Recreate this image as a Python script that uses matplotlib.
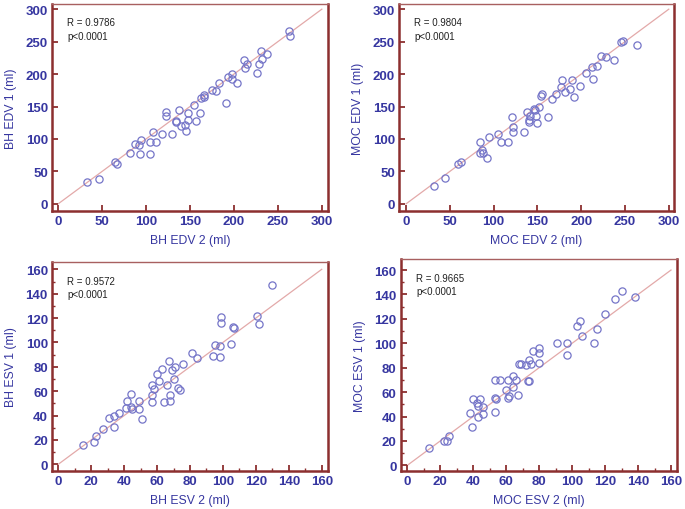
import matplotlib
matplotlib.use("Agg")
import matplotlib.pyplot as plt
from matplotlib.ticker import MultipleLocator

plt.rcParams['font.family'] = ['Liberation Sans', 'DejaVu Sans']

# ---- data ----
bh_edv2 = [33, 46, 65, 67, 82, 87, 92, 94, 93, 104, 105, 111, 108, 118, 129, 123, 123, 134, 134,
           138, 140, 144, 145, 148, 148, 155, 157, 161, 162, 166, 166, 175, 180, 183, 191, 193,
           198, 198, 203, 212, 213, 215, 226, 229, 231, 232, 238, 263, 264]
bh_edv1 = [33, 38, 65, 61, 79, 92, 91, 98, 77, 77, 96, 95, 110, 108, 107, 141, 136, 127, 126,
           144, 120, 122, 113, 140, 130, 152, 127, 140, 163, 168, 164, 176, 174, 186, 156, 196,
           200, 192, 187, 221, 210, 216, 201, 216, 235, 224, 231, 267, 259]

moc_edv2 = [32, 44, 59, 63, 84, 85, 87, 88, 93, 95, 105, 109, 116, 121, 122, 122, 135, 138, 140,
            140, 142, 146, 147, 148, 149, 152, 154, 155, 162, 167, 171, 177, 178, 181, 187, 190,
            192, 199, 205, 212, 214, 218, 223, 228, 237, 245, 248, 264]
moc_edv1 = [28, 40, 62, 65, 95, 79, 83, 79, 71, 103, 108, 96, 95, 134, 118, 111, 111, 141, 130,
            126, 136, 146, 144, 135, 124, 150, 166, 169, 134, 161, 169, 180, 191, 173, 177, 191,
            165, 181, 202, 211, 192, 212, 228, 227, 222, 249, 251, 245]

bh_esv2 = [15, 22, 23, 27, 31, 34, 34, 37, 41, 42, 44, 44, 45, 49, 49, 51, 57, 57, 58, 57, 60,
           61, 63, 64, 66, 67, 68, 68, 69, 70, 71, 73, 74, 76, 81, 84, 94, 95, 98, 98, 99, 99,
           105, 106, 107, 121, 122, 130]
bh_esv1 = [16, 18, 23, 29, 38, 40, 31, 42, 46, 52, 47, 58, 45, 52, 45, 37, 57, 65, 62, 51, 74,
           68, 78, 51, 65, 85, 57, 52, 77, 70, 80, 63, 61, 82, 91, 87, 89, 98, 97, 88, 121, 116,
           99, 113, 112, 122, 115, 147]

moc_esv2 = [13, 22, 24, 25, 38, 39, 40, 42, 43, 44, 43, 46, 46, 53, 53, 54, 53, 56, 60, 61, 61,
            62, 64, 64, 66, 67, 68, 69, 72, 73, 74, 74, 75, 76, 80, 80, 80, 91, 97, 97, 103,
            105, 106, 113, 115, 120, 126, 130, 138]
moc_esv1 = [14, 20, 20, 24, 43, 31, 54, 51, 49, 54, 40, 48, 42, 70, 55, 54, 44, 70, 62, 70, 55,
            57, 64, 73, 70, 58, 83, 83, 82, 69, 69, 86, 83, 94, 84, 92, 96, 100, 100, 90, 114,
            118, 106, 100, 112, 124, 136, 143, 138]

panels = [
    dict(x=bh_edv2, y=bh_edv1, xlabel="BH EDV 2 (ml)", ylabel="BH EDV 1 (ml)",
         r="R = 0.9786", p="p<0.0001", lim=300, step=50, minor=None,
         xlim=(-7, 307), ylim=(-11, 308), pos=[0.0759, 0.5843, 0.4029, 0.4059]),
    dict(x=moc_edv2, y=moc_edv1, xlabel="MOC EDV 2 (ml)", ylabel="MOC EDV 1 (ml)",
         r="R = 0.9804", p="p<0.0001", lim=300, step=50, minor=None,
         xlim=(-8, 306), ylim=(-11, 308), pos=[0.5825, 0.5843, 0.4015, 0.4059]),
    dict(x=bh_esv2, y=bh_esv1, xlabel="BH ESV 2 (ml)", ylabel="BH ESV 1 (ml)",
         r="R = 0.9572", p="p<0.0001", lim=160, step=20, minor=10,
         xlim=(-3.8, 163.8), ylim=(-5.5, 166), pos=[0.0759, 0.0745, 0.4029, 0.4098]),
    dict(x=moc_esv2, y=moc_esv1, xlabel="MOC ESV 2 (ml)", ylabel="MOC ESV 1 (ml)",
         r="R = 0.9665", p="p<0.0001", lim=160, step=20, minor=10,
         xlim=(-4, 163.5), ylim=(-4.4, 169), pos=[0.585, 0.0751, 0.403, 0.415]),
]

spine_col = "#8c2f2f"
tick_col = "#3636a0"
pt_col = "#7575c8"
line_col = "#e3a9a9"

fig = plt.figure(figsize=(6.85, 5.1), dpi=100)
for pnl in panels:
    ax = fig.add_axes(pnl["pos"])
    ax.plot([0, pnl["lim"]], [0, pnl["lim"]], color=line_col, lw=0.9, zorder=1)
    ax.plot(pnl["x"], pnl["y"], linestyle="none", marker="o", ms=5.2,
            mfc="none", mec=pt_col, mew=0.9, zorder=2)
    ax.set_xlim(*pnl["xlim"])
    ax.set_ylim(*pnl["ylim"])
    ax.xaxis.set_major_locator(MultipleLocator(pnl["step"]))
    ax.yaxis.set_major_locator(MultipleLocator(pnl["step"]))
    if pnl["minor"]:
        ax.xaxis.set_minor_locator(MultipleLocator(pnl["minor"]))
        ax.yaxis.set_minor_locator(MultipleLocator(pnl["minor"]))
    ax.tick_params(which="major", direction="in", length=4, width=1.3, color=spine_col,
                   labelcolor=tick_col, labelsize=9.5, pad=3)
    ax.tick_params(which="minor", direction="in", length=2, width=1.0, color=spine_col)
    for lab in ax.get_xticklabels() + ax.get_yticklabels():
        lab.set_fontweight("bold")
    for side, sp in ax.spines.items():
        sp.set_color(spine_col)
        sp.set_linewidth(1.8)
    ax.spines["top"].set_linewidth(1.0)
    ax.spines["top"].set_color("#a86060")
    ax.set_xlabel(pnl["xlabel"], color=tick_col, fontsize=8.8, labelpad=5)
    ax.set_ylabel(pnl["ylabel"], color=tick_col, fontsize=8.8, labelpad=6)
    ax.text(0.055, 0.935, pnl["r"] + "\n" + pnl["p"], transform=ax.transAxes,
            fontsize=7, color="#222222", va="top", ha="left", linespacing=1.4)

fig.savefig("out.png", dpi=100)
